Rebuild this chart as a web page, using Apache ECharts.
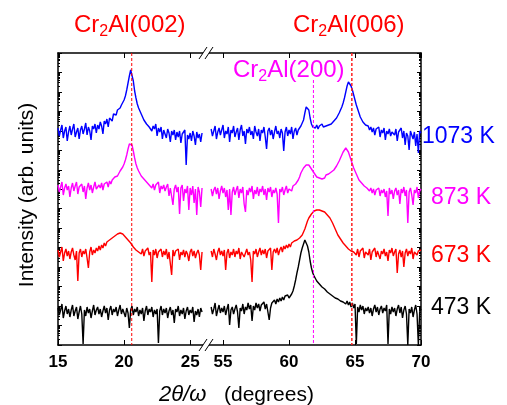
<!DOCTYPE html>
<html><head><meta charset="utf-8">
<script src="https://cdn.jsdelivr.net/npm/echarts@6/dist/echarts.min.js"></script>
<style>html,body{margin:0;padding:0;background:#fff}#c{width:507px;height:405px}</style>
</head><body><div id="c"></div>
<script>
// scan grid (degrees)
const leftStart = 15.0, rightStart = 54.1, angleStep = 0.1;
const leftRange = [15, 26.2];
const rightRange = [53.71, 70];
const xTicksLeft = [15, 20, 25];
const xTicksRight = [55, 60, 65, 70];
const yRange = [0, 292];
const decades = 15;
const seriesLabels = ['1073 K', '873 K', '673 K', '473 K'];
const seriesColors = ['#0000ff', '#ff00ff', '#ff0000', '#000000'];
const peakLabels = ['Cr2Al(002)', 'Cr2Al(006)', 'Cr2Al(200)'];
const refLines = [20.58, 64.76, 61.85];
const refColors = ['#ff0000', '#ff2020', '#ff00ff'];
const refTops = [292, 292, 265];

// intensities (log scale, offset, arb. units) 15.0..25.9 and 54.1..70.0
const blueLeft = [
217,209,215,220,207,214,218,204,213,219,
210,216,221,208,213,217,206,215,219,211,
216,222,210,218,214,205,219,216,221,212,
220,216,223,219,211,224,221,226,218,227,
229,224,231,233,230,235,234,237,240,242,
245,249,255,262,269,275,273,264,254,247,
241,237,234,231,228,225,223,221,222,218,
220,214,219,216,221,209,217,213,218,206,
215,211,207,216,212,203,214,210,215,205,
213,208,214,202,211,209,215,180,210,206,
212,204,214,209,200,213,207,211,203,212];
const blueRight = [
216,209,214,219,206,213,217,210,215,
220,207,214,211,218,203,215,212,219,208,
213,217,205,215,220,209,214,201,216,212,
218,210,214,206,219,213,209,216,204,215,
212,218,208,196,214,217,210,215,206,213,
219,211,214,207,216,212,194,213,218,209,
215,211,218,206,214,217,210,215,213,219,
220,225,232,238,240,235,227,221,218,219,
217,220,216,219,217,221,218,220,219,221,
220,222,221,223,224,226,227,229,232,235,
238,242,247,253,259,263,262,259,255,250,
245,240,236,232,228,226,223,221,220,218,
219,215,218,213,217,210,216,214,218,208,
215,212,217,205,214,211,216,209,213,215,
210,216,204,213,211,217,207,214,200,212,
209,195,214,210,206,213,199,211,192,214,
212];
const magentaLeft = [
160,153,158,163,150,157,161,155,159,148,
157,162,154,159,163,151,158,156,161,153,
159,146,157,162,155,160,152,158,163,156,
154,160,157,162,155,161,159,163,158,164,
161,165,163,168,166,169,171,174,176,178,
181,185,190,196,201,203,200,194,187,181,
177,174,172,169,168,166,165,163,164,160,
162,157,161,155,160,158,163,152,159,156,
160,154,158,161,149,157,159,140,156,160,
153,158,131,157,160,144,156,152,159,135,
157,150,159,142,156,130,158,153,138,157];
const magentaRight = [
156,149,155,158,151,157,146,154,159,
152,157,148,155,135,156,130,153,158,150,
155,159,147,156,152,158,141,133,155,150,
157,153,159,146,155,151,158,149,156,153,
159,150,156,145,157,153,158,148,155,152,
157,151,122,156,153,158,150,155,159,152,
156,158,154,159,157,161,162,165,168,172,
174,177,179,180,181,180,178,176,174,172,
171,168,170,167,169,166,168,167,170,169,
171,172,173,174,175,177,179,181,184,187,
190,193,195,197,196,193,189,185,181,177,
174,171,168,165,163,162,161,159,158,157,
158,154,157,152,156,150,155,153,157,149,
155,152,156,148,154,129,157,151,155,146,
154,157,150,155,141,156,152,158,149,155,
122,153,157,150,140,155,152,158,147,154,
156];
const redLeft = [
95,88,93,98,84,92,96,89,94,86,
93,97,90,85,94,64,92,96,88,94,
91,96,87,77,93,98,90,95,92,97,
94,99,95,100,97,102,99,103,101,105,
104,107,106,109,108,111,110,112,112,111,
110,108,107,105,104,102,100,98,97,95,
97,93,95,91,96,89,94,92,97,90,
93,63,95,90,96,87,93,91,96,88,
94,90,96,86,93,91,70,95,89,94,
92,96,85,93,90,95,88,94,91,84,
93,96,89,94,87,92,95,90,75,93];
const redRight = [
94,88,96,91,85,93,97,90,94,
89,95,75,92,96,87,93,90,96,88,
94,91,97,86,93,95,88,92,96,90,
93,85,63,94,91,96,88,93,97,90,
95,91,96,87,94,92,97,75,93,96,
92,97,90,95,98,93,99,96,100,97,
101,98,102,100,104,103,105,104,107,109,
110,113,116,120,124,127,129,131,133,134,
135,135,136,135,135,134,133,133,132,130,
129,127,125,122,119,116,113,110,108,106,
104,102,101,99,98,96,97,94,96,93,
95,90,96,88,94,92,97,87,93,95,
90,96,85,93,91,97,88,94,92,86,
94,91,96,89,93,84,95,92,97,89,
93,96,72,91,95,88,94,78,92,96,
89,94,91,97,86,93,95,90,94,92,
95];
const blackLeft = [
37,30,35,41,27,34,39,31,36,28,
35,40,29,34,38,26,33,39,31,1,
35,29,38,32,36,27,34,40,30,35,
38,31,36,28,34,39,32,37,25,35,
39,30,36,33,38,29,35,40,31,36,
34,28,37,32,17,35,39,30,36,33,
38,29,35,31,37,24,34,39,30,36,
33,38,28,35,31,36,2,34,39,30,
36,32,37,27,34,38,30,35,22,36,
33,39,29,35,31,37,26,34,38,30,
35,32,38,23,34,30,36,28,37,33];
const blackRight = [
38,31,36,42,29,35,40,32,37,
33,39,30,36,41,20,35,38,31,36,
40,33,17,37,34,41,31,38,35,42,
36,40,24,39,35,42,37,41,34,40,
38,43,36,41,39,25,37,42,40,45,
41,46,43,47,44,48,45,49,47,50,
47,48,51,54,59,65,72,78,85,92,
97,101,105,103,99,93,84,77,72,69,
67,64,63,61,60,58,58,56,55,53,
54,51,51,49,50,47,48,46,47,44,
46,43,45,41,44,40,43,38,42,37,
41,1,38,33,40,35,39,31,37,34,
38,32,37,29,36,40,33,38,30,36,
39,32,37,34,40,1,36,31,38,33,
37,29,36,40,32,38,27,35,39,31,
0,36,32,38,28,35,40,31,0,33,
36];

const leftData = [blueLeft, magentaLeft, redLeft, blackLeft];
const rightData = [blueRight, magentaRight, redRight, blackRight];

function pair(vals, start) {
  return vals.map((v, i) => [+(start + i * angleStep).toFixed(2), v]);
}

const FONT = '"Liberation Sans", Arial, Helvetica, sans-serif';
const decadeH = (yRange[1] - yRange[0]) / decades;
const majorY = [], minorY = [];
for (let i = 0; i <= decades; i++) majorY.push(i * decadeH);
for (let i = 0; i < decades; i++) for (let k = 2; k <= 9; k++) minorY.push((i + Math.log10(k)) * decadeH);

const gL = {left: 58, top: 53, width: 148, height: 292, outerBoundsMode: 'none'};
const gR = {left: 206, top: 53, width: 215, height: 292, outerBoundsMode: 'none'};
const axisLineStyle = {show: true, lineStyle: {color: '#000', width: 1.5}};

function xAx(grid, range, ticks, pos, labels) {
  return {
    type: 'value', gridIndex: grid, position: pos, min: range[0], max: range[1],
    axisLine: axisLineStyle,
    axisTick: {show: true, inside: true, length: 5, customValues: ticks, lineStyle: {color: '#000', width: 1}},
    axisLabel: labels ? {show: true, customValues: ticks, color: '#000', fontSize: 17, fontWeight: 'bold', fontFamily: FONT, margin: 9} : {show: false},
    splitLine: {show: false}
  };
}
function yAx(grid, pos, ticks, len, line) {
  return {
    type: 'value', gridIndex: grid, position: pos, min: yRange[0], max: yRange[1],
    axisLine: line ? axisLineStyle : {show: false},
    axisTick: {show: true, inside: true, length: len, customValues: ticks, lineStyle: {color: '#000', width: 1}},
    axisLabel: {show: false}, splitLine: {show: false}
  };
}

const series = [];
for (let s = 0; s < 4; s++) {
  series.push({type: 'line', xAxisIndex: 0, yAxisIndex: 0, data: pair(leftData[s], leftStart),
    showSymbol: false, symbol: 'none', color: seriesColors[s], lineStyle: {color: seriesColors[s], width: 1.4}, silent: true, z: 2 + s});
  series.push({type: 'line', xAxisIndex: 2, yAxisIndex: 1, data: pair(rightData[s], rightStart),
    showSymbol: false, symbol: 'none', color: seriesColors[s], lineStyle: {color: seriesColors[s], width: 1.4}, silent: true, z: 2 + s});
}
refLines.forEach(function (x, i) {
  const left = x < 40;
  series.push({type: 'line', xAxisIndex: left ? 0 : 2, yAxisIndex: left ? 0 : 1,
    data: [[x, refTops[i]], [x, 0]], showSymbol: false, symbol: 'none', silent: true, z: 20,
    color: refColors[i],
    lineStyle: {color: refColors[i], width: i === 1 ? 1.5 : 1, type: [3, 2]}});
});

function crLabel(txt, x, y, color) {
  const m = txt.match(/^Cr2Al(.*)$/);
  return {type: 'text', x: x, y: y, z: 100, silent: true, style: {
    text: '{n|Cr}{s|2}{n|Al' + m[1] + '}', fill: color, align: 'left', verticalAlign: 'top',
    rich: {n: {fontSize: 24, lineHeight: 30, fontFamily: FONT, fill: color},
           s: {fontSize: 16, lineHeight: 14, verticalAlign: 'bottom', fontFamily: FONT, fill: color}}}};
}
function txt(t, x, y, color, size, extra) {
  return Object.assign({type: 'text', x: x, y: y, z: 100, silent: true,
    style: Object.assign({text: t, fill: color, fontSize: size, fontFamily: FONT, align: 'left', verticalAlign: 'middle'}, extra || {})});
}
const graphic = [
  crLabel(peakLabels[0], 74, 10, '#ff0000'),
  crLabel(peakLabels[1], 293, 10, '#ff0000'),
  crLabel(peakLabels[2], 233, 55, '#ff00ff'),
  txt(seriesLabels[0], 422, 137, seriesColors[0], 23),
  txt(seriesLabels[1], 431, 198, seriesColors[1], 23),
  txt(seriesLabels[2], 431, 256, seriesColors[2], 23),
  txt(seriesLabels[3], 431, 308, seriesColors[3], 23),
  txt('2\u03b8/\u03c9', 159, 395, '#000', 22, {fontStyle: 'italic'}),
  txt('(degrees)', 224, 395, '#000', 21),
  {type: 'text', x: 27, y: 195, rotation: Math.PI / 2, z: 100, silent: true,
   style: {text: 'Intensity (arb. units)', fill: '#000', fontSize: 21, fontFamily: FONT, align: 'center', verticalAlign: 'middle'}}
];
[53, 345].forEach(function (Y) {
  graphic.push({type: 'rect', z: 100, silent: true, shape: {x: 203, y: Y - 2, width: 6, height: 4}, style: {fill: '#fff'}});
  graphic.push({type: 'line', z: 101, silent: true, shape: {x1: 199, y1: Y + 6, x2: 207, y2: Y - 6}, style: {stroke: '#000', lineWidth: 1}});
  graphic.push({type: 'line', z: 101, silent: true, shape: {x1: 205, y1: Y + 6, x2: 213, y2: Y - 6}, style: {stroke: '#000', lineWidth: 1}});
});

const chart = echarts.init(document.getElementById('c'), null, {renderer: 'canvas'});
chart.setOption({
  animation: false,
  backgroundColor: '#fff',
  grid: [gL, gR, Object.assign({}, gL), Object.assign({}, gR)],
  xAxis: [
    xAx(0, leftRange, xTicksLeft, 'bottom', true),
    xAx(0, leftRange, xTicksLeft, 'top', false),
    xAx(1, rightRange, xTicksRight, 'bottom', true),
    xAx(1, rightRange, xTicksRight, 'top', false),
    {type: 'value', gridIndex: 2, min: leftRange[0], max: leftRange[1], show: false},
    {type: 'value', gridIndex: 3, min: rightRange[0], max: rightRange[1], show: false}
  ],
  yAxis: [
    yAx(0, 'left', majorY, 4, true),
    yAx(1, 'right', majorY, 4, true),
    yAx(2, 'left', minorY, 2, false),
    yAx(3, 'right', minorY, 2, false)
  ],
  series: series,
  graphic: graphic
});
</script></body></html>
